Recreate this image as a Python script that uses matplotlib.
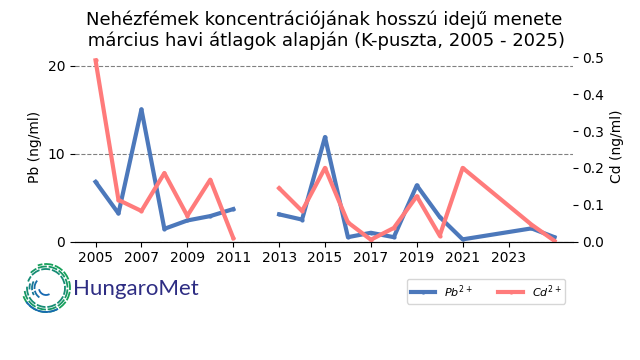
import numpy as np
import matplotlib
matplotlib.use("Agg")
import matplotlib.pyplot as plt
from matplotlib.patches import Arc

# March averages, K-puszta
years = [2005, 2006, 2007, 2008, 2009, 2010, 2011, 2012, 2013, 2014, 2015,
         2016, 2017, 2018, 2019, 2020, 2021, 2024, 2025]
pb = [6.8, 3.2, 15.05, 1.45, 2.4, 2.9, 3.7, np.nan, 3.1, 2.5, 11.9,
      0.5, 1.0, 0.5, 6.4, 2.8, 0.25, 1.5, 0.5]
cd = [0.492, 0.113, 0.083, 0.186, 0.07, 0.168, 0.01, np.nan, 0.145, 0.083, 0.2,
      0.052, 0.005, 0.037, 0.123, 0.016, 0.2, 0.046, 0.002]
xticks = list(range(2005, 2024, 2))

blue = '#4c78bb'
red = '#ff7b7b'

fig = plt.figure(figsize=(6.4, 3.6), dpi=100)
ax = fig.add_axes([0.117, 0.329, 0.778, 0.527])
ax2 = ax.twinx()

l1, = ax.plot(years, pb, color=blue, lw=3, marker='o', ms=2, label='$Pb^{2+}$')
l2, = ax2.plot(years, cd, color=red, lw=3, marker='o', ms=2, label='$Cd^{2+}$')

ax.set_ylim(0, 21.6)
ax2.set_ylim(0, 0.515)
ax.set_xlim(2004.1, 2025.8)
ax.set_xticks(xticks)
ax.set_yticks([0, 10, 20])
ax2.set_yticks([0, 0.1, 0.2, 0.3, 0.4, 0.5])
ax.yaxis.grid(True, ls='--', color='gray', lw=0.8)
ax.set_axisbelow(True)
for a in (ax, ax2):
    for s in ('top', 'left', 'right'):
        a.spines[s].set_visible(False)
    a.tick_params(labelsize=10)
ax.set_ylabel('Pb (ng/ml)', fontsize=10)
ax2.set_ylabel('Cd (ng/ml)', fontsize=10)
ax.set_title('Nehézfémek koncentrációjának hosszú idejű menete\n március havi átlagok alapján (K-puszta, 2005 - 2025)',
             fontsize=13, pad=4)

fig.legend(handles=[l1, l2], ncol=2, fontsize=8, loc='upper right',
           bbox_to_anchor=(0.892, 0.24), handlelength=2.2, columnspacing=2.3,
           borderpad=0.35)

# logo
lax = fig.add_axes([20 / 640, 1 - 315 / 360, 52 / 640, 54 / 360])
lax.set_xlim(-26, 26)
lax.set_ylim(-27, 27)
lax.set_aspect('equal')
lax.axis('off')
cols = ['#17a05a', '#179765', '#178c75', '#178285', '#177896', '#176fa8', '#1769b2']
for i, r in enumerate([24, 21.5, 19, 16.5, 14, 11.5]):
    lax.add_patch(Arc((0, 0), 2 * r, 2 * r, theta1=200 - i * 12, theta2=110 + i * 25,
                      color=cols[i], lw=1.3, ls=(0, (5, 1))))
lax.add_patch(Arc((0, 0), 48, 48, theta1=215, theta2=300, color='#1769b2', lw=1.3))
lax.add_patch(Arc((0, 0), 14, 14, theta1=190, theta2=300, color='#1769b2', lw=1.3))
fig.text(73 / 640, 1 - 289 / 360, 'HungaroMet', fontsize=16, color='#2e2d83',
         va='center', ha='left', family='Lato')

fig.savefig('out.png', dpi=100)
